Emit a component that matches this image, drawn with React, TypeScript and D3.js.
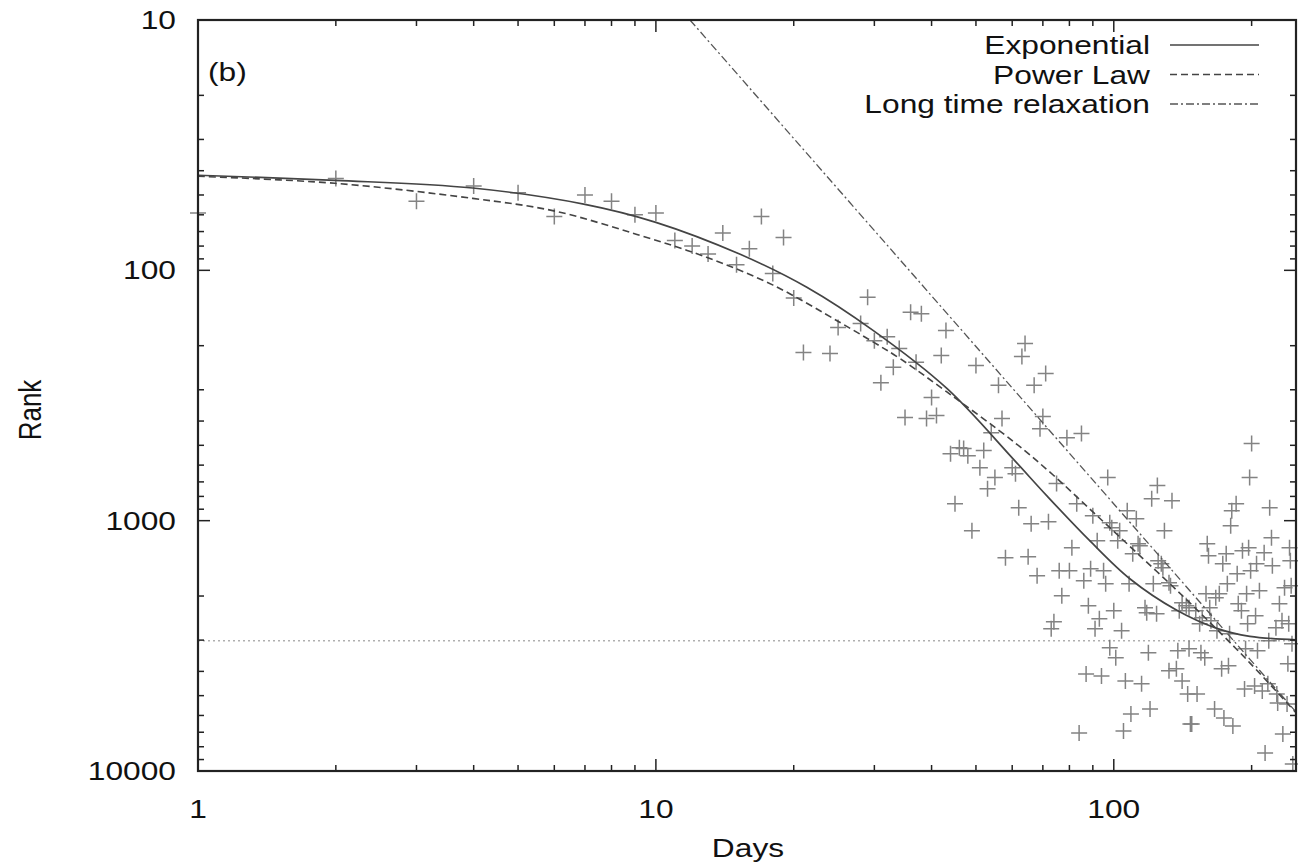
import React from 'react';
import * as d3 from 'd3';

// ---- Data ----
const days: number[] = [
  1, 2, 3, 4, 5, 6, 7, 8, 9, 10, 11, 12, 13, 14, 15, 16, 17, 18, 19, 20,
  21, 24, 25, 28, 29, 30, 31, 32, 33, 34, 35, 36, 37, 38, 39, 40, 41, 42, 43, 44,
  45, 46, 47, 48, 49, 50, 51, 52, 53, 54, 55, 56, 57, 58, 60, 61, 62, 63, 64, 65,
  66, 67, 68, 69, 70, 71, 72, 73, 74, 75, 76, 77, 79, 80, 81, 83, 84, 85, 86, 87,
  88, 89, 90, 91, 92,
  97, 124.5, 121, 134, 107, 112, 129, 200, 198, 185, 181, 180, 219, 221, 99, 102, 114, 110, 95, 96,
  108, 127, 122, 133, 160, 161, 173, 176, 191, 197, 213, 205, 222, 186, 199, 177, 242, 243, 159, 170,
  195, 208, 236, 244,
  100, 93, 104, 117, 124, 118, 139, 144, 151, 167, 162, 187, 190, 196, 204, 230, 233, 226, 241, 163,
  168, 154, 179, 218, 245, 98, 101, 119, 138, 146, 155, 158, 172, 178, 206, 194, 132, 137, 141, 94,
  106, 115, 145, 152, 193, 203, 211, 217, 227, 240, 239, 228, 109, 120, 166, 174, 182, 147, 148, 105,
  214, 234, 246,
  98, 103, 113, 125, 128, 132, 141, 146, 156,
];
const ranks: number[] = [
  59, 43, 53, 46, 49, 61, 50, 53, 60, 59, 76, 80, 86, 71, 95, 82, 61, 103, 74, 129,
  213, 215, 169, 163, 128, 191, 281, 184, 244, 205, 387, 147, 233, 149, 391, 322, 380, 219, 174, 540,
  855, 511, 515, 550, 1096, 240, 614, 525, 745, 445, 673, 288, 391, 1406, 614, 649, 887, 221, 196, 1393,
  1028, 288, 1660, 429, 384, 258, 1009, 2704, 2535, 711, 1585, 1995, 466, 1585, 1282, 855, 7047, 449, 1738, 4093,
  2188, 1556, 955, 2704, 1202,
  673, 724, 817, 832, 912, 982, 1096, 492, 673, 855, 912, 1047, 887, 1169, 1067, 1202, 1259, 1355, 1585, 1786,
  1786, 1486, 1786, 1820, 1236, 1380, 1486, 1355, 1318, 1282, 1343, 1486, 1514, 1629, 1585, 1786, 1282, 1445, 1959, 1959,
  1959, 1905, 1854, 1820,
  2291, 2466, 2754, 2228, 2355, 2333, 2291, 2188, 2291, 2032, 2228, 2148, 2291, 2582, 2399, 2148, 2512, 2679, 2582, 2512,
  2754, 2582, 2831, 3020, 3105, 3221, 3532, 3373, 3311, 3251, 3373, 3532, 3908, 3802, 3311, 3251, 3981, 3908, 4365, 4169,
  4365, 4487, 4920, 4920, 4699, 4571, 4786, 4487, 4920, 3733, 5395, 5346, 5916, 5649, 5649, 6138, 6607, 6486, 6486, 6918,
  8472, 7112, 9376,
  1019, 1096, 1236, 1445, 1542, 1770, 2128, 2228, 2443,
];

// Exponential fit (solid)
const expDays: number[] = [1, 1.99, 3.98, 7.0, 10, 15.28, 21.36, 29.8, 43.2, 60.2, 71.7, 88.6, 108.4, 137.3, 167.9, 198.2, 250];
const expRanks: number[] = [41.7, 43.7, 46.9, 54.5, 64.3, 86.3, 116.9, 173.8, 296.5, 565, 801.7, 1202, 1706, 2280, 2692, 2897, 2990];

// Power law fit (dashed)
const powDays: number[] = [1, 1.99, 3.98, 6.02, 9.09, 12.9, 18.03, 25.2, 29.8, 34.1, 43.2, 60.8, 73.6, 90.0, 112.2, 141.5, 173.0, 198.2, 250];
const powRanks: number[] = [42.1, 44.9, 51.6, 58.0, 71.9, 88.7, 114.6, 161.2, 193.2, 224.9, 306, 488, 655.5, 921.9, 1343, 2000, 2871, 3698, 5848];

// Long time relaxation (dash-dot, straight in log-log)
const relDays: number[] = [11.87, 250];
const relRanks: number[] = [10, 5808];

// Asymptote (dotted)
const asymptoteRank = 3020;

const xMajor = [1, 10, 100];
const yMajor = [10, 100, 1000, 10000];
const legendLabels = ['Exponential', 'Power Law', 'Long time relaxation'];

const W = 1298;
const H = 863;
const L = 198, R = 1296, T = 20, B = 771;
const SX = 1.22; // horizontal stretch of the text in the reference
const FONT = "'Liberation Sans', Arial, Helvetica, sans-serif";

export default function App() {
  const x = d3.scaleLog().domain([1, 250]).range([L, R]);
  const y = d3.scaleLog().domain([10, 10000]).range([T, B]);

  const xMinor: number[] = [];
  for (const dec of [1, 10, 100]) for (let k = 2; k <= 9; k++) { const v = dec * k; if (v <= 250) xMinor.push(v); }
  const yMinor: number[] = [];
  for (const dec of [10, 100, 1000]) for (let k = 2; k <= 9; k++) yMinor.push(dec * k);

  const line = (ds: number[], rs: number[], curve: any) =>
    d3.line<number>().x((_, i) => x(ds[i])).y((_, i) => y(rs[i])).curve(curve)(ds.map((_, i) => i)) || '';

  const lineCol = '#444';
  const txt = (key: string, tx: number, ty: number, s: string, anchor: string) => (
    <g key={key} transform={`translate(${tx},${ty}) scale(${SX},1)`}>
      <text x={0} y={0} textAnchor={anchor} fontFamily={FONT} fontSize={26} fill="#111">{s}</text>
    </g>
  );

  const legendY = [45, 74.5, 104];
  const dashes = ['', '7,4', '8,3,2,3'];
  const smooth = d3.curveCatmullRom.alpha(0.5);

  return (
    <svg width={W} height={H} style={{ position: 'absolute', left: 0, top: 0, background: '#fff' }}>
      <defs>
        <clipPath id="plot"><rect x={L} y={T} width={R - L} height={B - T} /></clipPath>
      </defs>
      <rect x={0} y={0} width={W} height={H} fill="#fff" />

      {/* asymptote */}
      <line x1={L} x2={R} y1={y(asymptoteRank)} y2={y(asymptoteRank)} stroke="#888" strokeWidth={1} strokeDasharray="2,3" />

      {/* scatter */}
      <g stroke="#6e6e6e" strokeWidth={1.5} opacity={0.85}>
        {days.map((d, i) => {
          const cx = x(d), cy = y(ranks[i]);
          return <path key={i} d={`M${cx - 8},${cy}h16M${cx},${cy - 8}v16`} fill="none" />;
        })}
      </g>

      {/* fits */}
      <g clipPath="url(#plot)" fill="none">
        <path d={line(expDays, expRanks, smooth)} stroke={lineCol} strokeWidth={1.7} />
        <path d={line(powDays, powRanks, smooth)} stroke={lineCol} strokeWidth={1.6} strokeDasharray="7,4" />
        <path d={line(relDays, relRanks, d3.curveLinear)} stroke="#555" strokeWidth={1.3} strokeDasharray="8,3,2,3" />
      </g>

      {/* frame */}
      <rect x={L} y={T} width={R - L} height={B - T} fill="none" stroke="#222" strokeWidth={2.2} />

      {/* ticks */}
      <g stroke="#222" strokeWidth={1.5}>
        {xMajor.map((v) => (
          <g key={'xM' + v}>
            <line x1={x(v)} x2={x(v)} y1={B} y2={B - 12} />
            <line x1={x(v)} x2={x(v)} y1={T} y2={T + 12} />
          </g>
        ))}
        {xMinor.map((v) => (
          <g key={'xm' + v}>
            <line x1={x(v)} x2={x(v)} y1={B} y2={B - 6} />
            <line x1={x(v)} x2={x(v)} y1={T} y2={T + 6} />
          </g>
        ))}
        {yMajor.map((v) => (
          <g key={'yM' + v}>
            <line x1={L} x2={L + 12} y1={y(v)} y2={y(v)} />
            <line x1={R} x2={R - 12} y1={y(v)} y2={y(v)} />
          </g>
        ))}
        {yMinor.map((v) => (
          <g key={'ym' + v}>
            <line x1={L} x2={L + 6} y1={y(v)} y2={y(v)} />
            <line x1={R} x2={R - 6} y1={y(v)} y2={y(v)} />
          </g>
        ))}
      </g>

      {/* tick labels */}
      {yMajor.map((v) => txt('yl' + v, 176, y(v) + 9, String(v), 'end'))}
      {xMajor.map((v) => txt('xl' + v, x(v), 818, String(v), 'middle'))}

      {/* axis titles */}
      {txt('xt', 748, 857, 'Days', 'middle')}
      <g transform={`translate(41,410) scale(${SX},1) rotate(-90)`}>
        <text x={0} y={0} textAnchor="middle" fontFamily={FONT} fontSize={26} fill="#111">Rank</text>
      </g>

      {/* panel label */}
      {txt('pl', 208, 81, '(b)', 'start')}

      {/* legend */}
      {legendLabels.map((lab, i) => (
        <g key={'lg' + i}>
          {txt('lt' + i, 1150, legendY[i] + 9, lab, 'end')}
          <line x1={1170} x2={1259} y1={legendY[i]} y2={legendY[i]} stroke={i === 2 ? '#555' : lineCol}
            strokeWidth={i === 0 ? 1.7 : i === 1 ? 1.6 : 1.3} strokeDasharray={dashes[i] || undefined} />
        </g>
      ))}
    </svg>
  );
}
